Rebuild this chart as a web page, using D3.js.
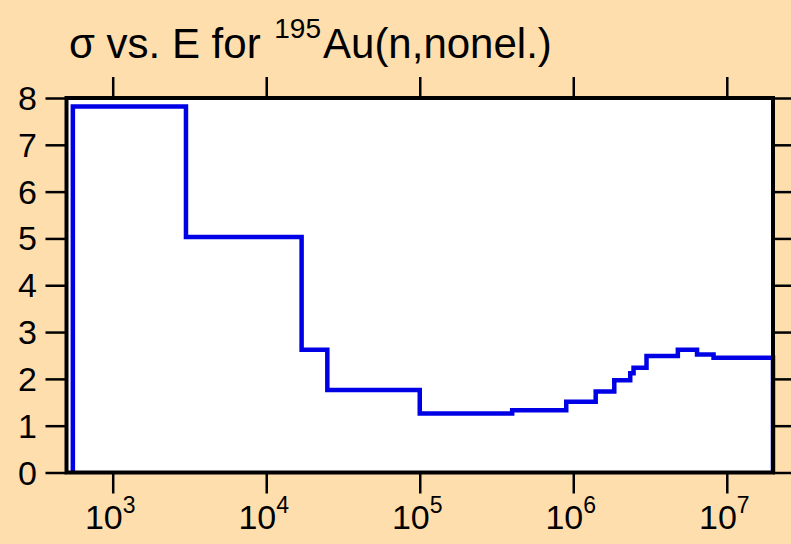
<!DOCTYPE html>
<meta charset="utf-8">
<script src="https://cdn.jsdelivr.net/npm/d3@7"></script>
<style type="text/css">
body { margin: 0; background: #ffdead; }
.axis path { stroke: none; }
.axis line { stroke: #000; stroke-width: 2.5; }
.label { font-family: "Liberation Sans", Arial, sans-serif; fill: #000; }
.step {
    fill: none;
    stroke: #0000e6;
    stroke-width: 4.5;
}
</style>
<body>
</body>
<script>
// step edges (eV) and cross section (b) on each step
var edges = [550, 3000, 17000, 25000, 1e5, 4e5, 9e5, 1.4e6, 1.85e6, 2.35e6, 2.47e6, 3e6, 4.8e6, 6.4e6, 8.2e6, 2e7];
var sigma = [7.82, 5.03, 2.62, 1.76, 1.26, 1.33, 1.51, 1.73, 1.97, 2.12, 2.24, 2.49, 2.62, 2.52, 2.45];
var xTicks = [1e3, 1e4, 1e5, 1e6, 1e7];
var yTicks = [0, 1, 2, 3, 4, 5, 6, 7, 8];

var W = 791, H = 544;
var margin = {top: 98, right: 18, bottom: 72, left: 66.5};
var width = 773 - margin.left, height = 472.5 - margin.top;

var svg = d3.select("body").append("svg")
    .attr("width", W)
    .attr("height", H);

svg.append("rect").attr("width", W).attr("height", H).attr("fill", "#ffdead");

var g = svg.append("g")
    .attr("transform", "translate(" + margin.left + "," + margin.top + ")");

var xScale = d3.scaleLog().domain([500, 2e7]).range([0, width]);
var yScale = d3.scaleLinear().domain([0, 8]).range([height, 0]);

g.append("rect")
    .attr("width", width)
    .attr("height", height)
    .attr("fill", "#fff");

// step line
var pts = [[edges[0], 0]];
for (var i = 0; i < sigma.length; i++) {
  pts.push([edges[i], sigma[i]]);
  pts.push([edges[i + 1], sigma[i]]);
}
pts.push([edges[edges.length - 1], 0]);

var line = d3.line()
    .x(function(d) { return xScale(d[0]); })
    .y(function(d) { return yScale(d[1]); });

g.append("path")
    .datum(pts)
    .attr("class", "step")
    .attr("stroke-linejoin", "miter")
    .attr("d", line);

// axes (ticks outward all round)
g.append("g").attr("class", "axis")
    .attr("transform", "translate(0," + height + ")")
    .call(d3.axisBottom(xScale).tickValues(xTicks).tickSize(21).tickFormat(""));
g.append("g").attr("class", "axis")
    .call(d3.axisTop(xScale).tickValues(xTicks).tickSize(21).tickFormat(""));
g.append("g").attr("class", "axis")
    .call(d3.axisLeft(yScale).tickValues(yTicks).tickSize(21).tickFormat(""));
g.append("g").attr("class", "axis")
    .attr("transform", "translate(" + width + ",0)")
    .call(d3.axisRight(yScale).tickValues(yTicks).tickSize(21).tickFormat(""));

// frame
g.append("rect")
    .attr("width", width)
    .attr("height", height)
    .attr("fill", "none")
    .attr("stroke", "#000")
    .attr("stroke-width", 4);

// y labels
g.selectAll(".ylab").data(yTicks).enter().append("text")
    .attr("class", "label")
    .attr("x", -29.5)
    .attr("y", function(d) { return yScale(d) + 12; })
    .attr("text-anchor", "end")
    .style("font-size", "34px")
    .text(function(d) { return d; });

// x labels 10^n
var xl = g.selectAll(".xlab").data(xTicks).enter().append("text")
    .attr("class", "label")
    .attr("x", function(d) { return xScale(d) - 2.5; })
    .attr("y", height + 56)
    .attr("text-anchor", "middle")
    .style("font-size", "34px");
xl.append("tspan").text("10");
xl.append("tspan")
    .attr("dy", -16)
    .style("font-size", "23px")
    .text(function(d) { return Math.round(Math.log10(d)); });

// title
var t = svg.append("text")
    .attr("class", "label")
    .attr("x", 69)
    .attr("y", 58)
    .style("font-size", "42px");
t.append("tspan").text("\u03c3 vs. E for ");
t.append("tspan").attr("dy", -20).attr("dx", 2).style("font-size", "28px").text("195");
t.append("tspan").attr("dy", 20).attr("dx", 2).text("Au(n,nonel.)");
</script>
